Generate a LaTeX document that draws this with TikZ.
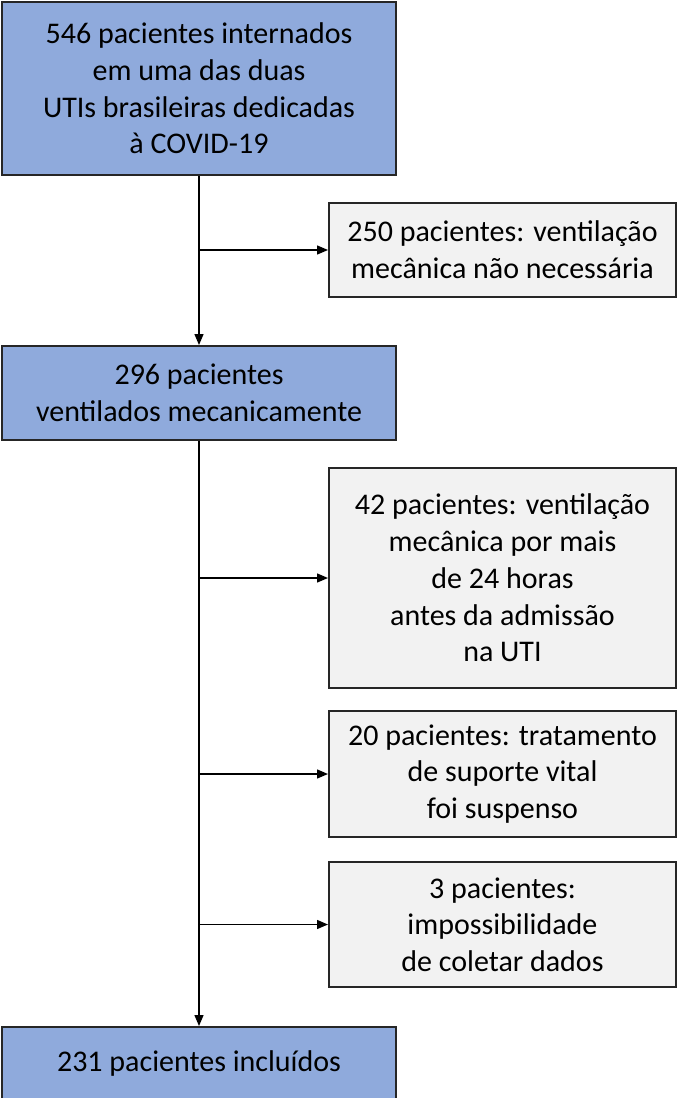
\documentclass[tikz,border=0pt]{standalone}
\usepackage{fontspec}
\setmainfont{Carlito}
\usepackage{tikz}
\usetikzlibrary{arrows.meta, positioning}
\definecolor{stagecolor}{RGB}{143, 170, 220}
\definecolor{exclcolor}{RGB}{242, 242, 242}
\definecolor{edgecolor}{RGB}{38, 38, 38}

\begin{document}
\begin{tikzpicture}[
    x=1pt, y=1pt,
    stage/.style={draw=edgecolor, line width=1pt, fill=stagecolor, minimum width=197pt, inner sep=0pt, align=center, font=\fontsize{15pt}{18.35pt}\selectfont},
    excl/.style={draw=edgecolor, line width=1pt, fill=exclcolor, minimum width=173.5pt, inner sep=0pt, align=center, anchor=west, font=\fontsize{15pt}{18.35pt}\selectfont},
    arrow/.style={-{Triangle[length=5.5pt, width=4.5pt]}, line width=0.7pt, draw=black}
]
    \useasboundingbox (0,0) rectangle (339,-549);

    % Main flow
    \node[stage, minimum height=86.5pt] (admitted) at (99.5,-44.25) {546 pacientes internados\\em uma das duas\\UTIs brasileiras dedicadas\\à COVID-19};
    \node[stage, minimum height=47pt, below=84.5pt of admitted] (ventilated) {296 pacientes\\ventilados mecanicamente};
    \node[stage, minimum height=36pt, below=292.5pt of ventilated] (included) {231 pacientes incluídos};

    % Exclusions
    \node[excl, minimum height=47pt] (noVent) at (164,-125) {250 pacientes: ventilação\\mecânica não necessária};
    \node[excl, minimum height=110pt] (longVent) at (164,-289) {42 pacientes: ventilação\\mecânica por mais\\de 24 horas\\antes da admissão\\na UTI};
    \node[excl, minimum height=63pt] (withdrawn) at (164,-387) {20 pacientes: tratamento\\de suporte vital\\foi suspenso};
    \node[excl, minimum height=62.5pt] (noData) at (164,-462.25) {3 pacientes:\\impossibilidade\\de coletar dados};

    % Arrows
    \draw[arrow] (admitted) -- (ventilated);
    \draw[arrow] (ventilated) -- (included);
    \draw[arrow] (admitted.south |- noVent.west) -- (noVent.west);
    \draw[arrow] (ventilated.south |- longVent.west) -- (longVent.west);
    \draw[arrow] (ventilated.south |- withdrawn.west) -- (withdrawn.west);
    \draw[arrow] (ventilated.south |- noData.west) -- (noData.west);

\end{tikzpicture}
\end{document}
